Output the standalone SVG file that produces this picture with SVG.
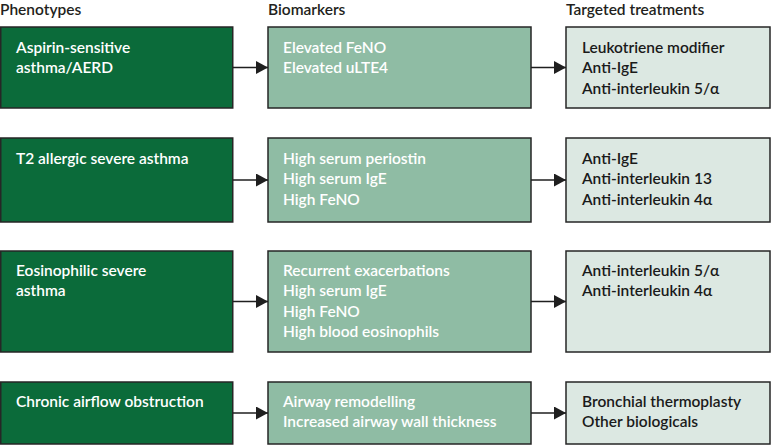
<svg xmlns="http://www.w3.org/2000/svg" width="771" height="445" viewBox="0 0 771 445">
<defs>
<marker id="ah" markerWidth="12" markerHeight="13" refX="12" refY="6.5" orient="auto" markerUnits="userSpaceOnUse">
<path d="M0,0 L12,6.5 L0,13 Z" fill="#1f1f1f"/>
</marker>
<style>
text{font-family:Lato,"Liberation Sans",Arial,sans-serif;font-size:15.5px;font-weight:600}
.hd{fill:#231f20;font-size:15.5px}
.ph rect{fill:#0b6b3a;stroke:#262626;stroke-width:1.5}
.bm rect{fill:#8fbca4;stroke:#262626;stroke-width:1.5}
.tt rect{fill:#dce8e2;stroke:#262626;stroke-width:1.5}
.ph text,.bm text{fill:#ffffff}
.tt text{fill:#1a1a1a}
.conn line{stroke:#1f1f1f;stroke-width:1.6;marker-end:url(#ah)}
</style>
</defs>
<rect width="771" height="445" fill="#ffffff"/>
<g id="headers">
<text class="hd" x="0" y="14.5">Phenotypes</text>
<text class="hd" x="268" y="14.5">Biomarkers</text>
<text class="hd" x="566" y="14.5">Targeted treatments</text>
</g>
<g id="ph1" class="ph"><rect x="0.75" y="27" width="232" height="81"/>
<text x="16" y="53">Aspirin-sensitive</text><text x="16" y="73.3">asthma/AERD</text></g>
<g id="bm1" class="bm"><rect x="268" y="27" width="263" height="81"/>
<text x="283" y="53">Elevated FeNO</text><text x="283" y="73.3">Elevated uLTE4</text></g>
<g id="tt1" class="tt"><rect x="566" y="27" width="204" height="81"/>
<text x="582" y="53">Leukotriene modifier</text><text x="582" y="73.3">Anti-IgE</text><text x="582" y="93.6">Anti-interleukin 5/α</text></g>

<g id="ph2" class="ph"><rect x="0.75" y="138" width="232" height="84"/>
<text x="16" y="164">T2 allergic severe asthma</text></g>
<g id="bm2" class="bm"><rect x="268" y="138" width="263" height="84"/>
<text x="283" y="164">High serum periostin</text><text x="283" y="184.3">High serum IgE</text><text x="283" y="204.6">High FeNO</text></g>
<g id="tt2" class="tt"><rect x="566" y="138" width="204" height="84"/>
<text x="582" y="164">Anti-IgE</text><text x="582" y="184.3">Anti-interleukin 13</text><text x="582" y="204.6">Anti-interleukin 4α</text></g>

<g id="ph3" class="ph"><rect x="0.75" y="251" width="232" height="101"/>
<text x="16" y="276">Eosinophilic severe</text><text x="16" y="296.3">asthma</text></g>
<g id="bm3" class="bm"><rect x="268" y="251" width="263" height="101"/>
<text x="283" y="276">Recurrent exacerbations</text><text x="283" y="296.3">High serum IgE</text><text x="283" y="316.6">High FeNO</text><text x="283" y="336.9">High blood eosinophils</text></g>
<g id="tt3" class="tt"><rect x="566" y="251" width="204" height="101"/>
<text x="582" y="276">Anti-interleukin 5/α</text><text x="582" y="296.3">Anti-interleukin 4α</text></g>

<g id="ph4" class="ph"><rect x="0.75" y="382" width="232" height="62"/>
<text x="16" y="407">Chronic airflow obstruction</text></g>
<g id="bm4" class="bm"><rect x="268" y="382" width="263" height="62"/>
<text x="283" y="407">Airway remodelling</text><text x="283" y="427.3">Increased airway wall thickness</text></g>
<g id="tt4" class="tt"><rect x="566" y="382" width="204" height="62"/>
<text x="582" y="407">Bronchial thermoplasty</text><text x="582" y="427.3">Other biologicals</text></g>

<g id="connectors" class="conn">
<line x1="233" y1="67.5" x2="268" y2="67.5"/>
<line x1="531" y1="67.5" x2="566" y2="67.5"/>
<line x1="233" y1="180" x2="268" y2="180"/>
<line x1="531" y1="180" x2="566" y2="180"/>
<line x1="233" y1="301.5" x2="268" y2="301.5"/>
<line x1="531" y1="301.5" x2="566" y2="301.5"/>
<line x1="233" y1="413" x2="268" y2="413"/>
<line x1="531" y1="413" x2="566" y2="413"/>
</g>
</svg>
